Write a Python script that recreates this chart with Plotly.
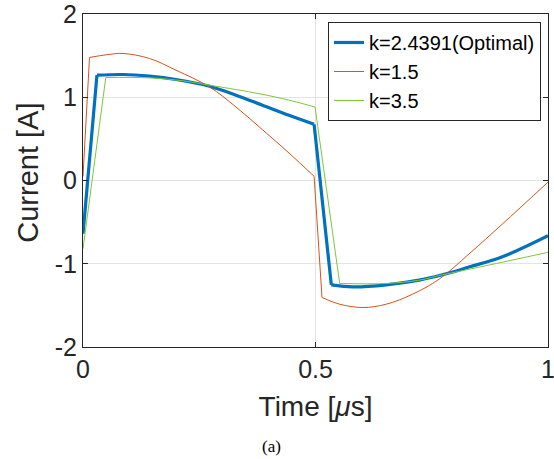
import plotly.graph_objects as go

# k = 2.4391 (Optimal)
t_opt = [0, 0.030, 0.086, 0.143, 0.2, 0.272, 0.329, 0.386, 0.443, 0.497,
         0.534, 0.580, 0.652, 0.723, 0.773, 0.830, 0.902, 1.0]
i_opt = [-0.64, 1.265, 1.273, 1.253, 1.213, 1.132, 1.024, 0.904, 0.783, 0.675,
         -1.253, -1.277, -1.253, -1.197, -1.133, -1.04, -0.916, -0.663]

# k = 1.5
t_15 = [0, 0.014, 0.05, 0.086, 0.143, 0.2, 0.272, 0.329, 0.386, 0.443, 0.497,
        0.514, 0.552, 0.602, 0.652, 0.709, 0.766, 0.830, 0.902, 1.0]
i_15 = [0.05, 1.478, 1.51, 1.526, 1.466, 1.325, 1.124, 0.883, 0.61, 0.33, 0.05,
        -1.405, -1.486, -1.526, -1.486, -1.365, -1.185, -0.883, -0.522, -0.02]

# k = 3.5
t_35 = [0, 0.049, 0.143, 0.215, 0.272, 0.358, 0.429, 0.499,
        0.552, 0.652, 0.723, 0.773, 0.866, 1.0]
i_35 = [-0.82, 1.237, 1.233, 1.197, 1.145, 1.064, 0.984, 0.883,
        -1.237, -1.237, -1.197, -1.133, -1.024, -0.863]

x_ticks = [0, 0.5, 1]
x_labels = ["0", "0.5", "1"]
y_ticks = [-2, -1, 0, 1, 2]
y_labels = ["-2", "-1", "0", "1", "2"]

FONT = "Liberation Sans, Arial, Helvetica"

series = [
    # name, t, i, colour, width, index of the start of the second half
    ("k=2.4391(Optimal)", t_opt, i_opt, "#0072BD", 3.2, 10),
    ("k=1.5", t_15, i_15, "#D95319", 1, 11),
    ("k=3.5", t_35, i_35, "#7DC83A", 1, 8),
]

fig = go.Figure()
for name, t, i, col, w, h in series:
    n = len(t)
    # smooth arcs (spline) and steep switching edges (straight)
    pieces = [
        (t[1:h], i[1:h], "spline"),
        (t[h:n], i[h:n], "spline"),
        (t[0:2], i[0:2], "linear"),
        (t[h - 1:h + 1], i[h - 1:h + 1], "linear"),
    ]
    for k, (tx, iy, shape) in enumerate(pieces):
        fig.add_trace(go.Scatter(
            x=tx, y=iy, mode="lines", name=name, legendgroup=name,
            showlegend=(k == 0),
            line=dict(color=col, width=w, shape=shape,
                      **({"smoothing": 1.0} if shape == "spline" else {}))))

axis_common = dict(showline=True, linecolor="#262626", linewidth=1, mirror="ticks",
                   ticks="inside", ticklen=5, tickcolor="#262626",
                   showgrid=True, gridcolor="#e3e3e3", gridwidth=1, zeroline=False,
                   ticklabeloverflow="allow", automargin=False,
                   tickfont=dict(family=FONT, size=25, color="#262626"))

fig.update_xaxes(range=[0, 1], tickvals=x_ticks, ticktext=x_labels,
                 title=dict(text="Time [<i>μ</i>s]", font=dict(family=FONT, size=28, color="#262626"),
                            standoff=14),
                 **axis_common)
fig.update_yaxes(range=[-2, 2], tickvals=y_ticks, ticktext=y_labels, **axis_common)

fig.add_annotation(text="Current [A]", xref="paper", yref="paper", x=-0.12, y=0.524,
                   xanchor="center", yanchor="middle", textangle=-90, showarrow=False,
                   font=dict(family=FONT, size=29, color="#262626"))

fig.add_annotation(text="(a)", xref="paper", yref="paper", x=0.405, y=-0.30,
                   xanchor="center", yanchor="middle", showarrow=False,
                   font=dict(family="Liberation Serif, Times New Roman", size=17, color="black"))

fig.update_layout(
    width=554, height=459,
    margin=dict(l=83, r=6, t=14, b=112),
    plot_bgcolor="white", paper_bgcolor="white",
    legend=dict(x=0.985, y=0.976, xanchor="right", yanchor="top",
                bgcolor="white", bordercolor="#262626", borderwidth=1,
                font=dict(family=FONT, size=20, color="black"),
                tracegroupgap=0, itemwidth=30, groupclick="togglegroup"),
)

fig.write_html("out.html")
